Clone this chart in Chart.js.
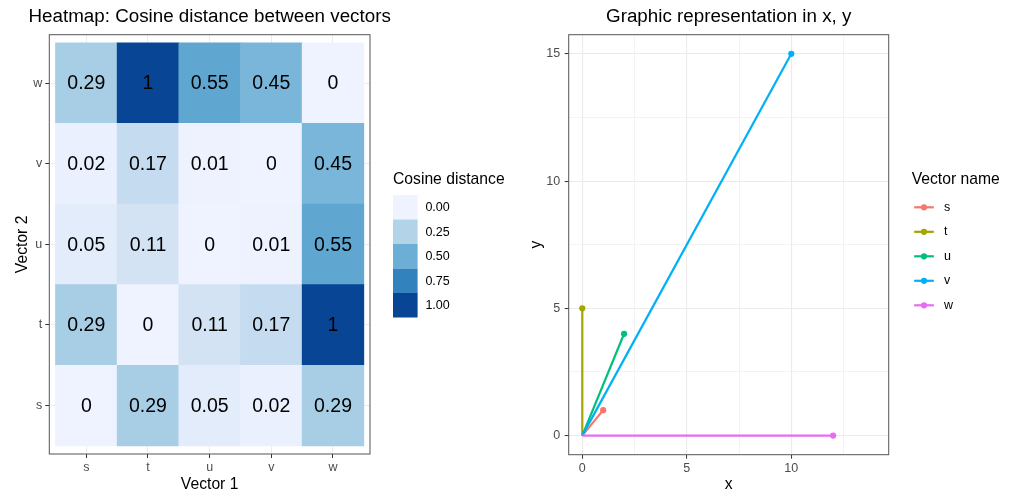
<!DOCTYPE html>
<html>
<head>
<meta charset="utf-8">
<script src="https://cdn.jsdelivr.net/npm/chart.js@4/dist/chart.umd.min.js"></script>
<style>
  html, body { margin: 0; padding: 0; background: #ffffff; }
  #wrap { position: relative; width: 1015px; height: 493px; overflow: hidden; }
  canvas { position: absolute; top: 0; }
  #heat { left: 0; }
  #vec { left: 507px; }
</style>
</head>
<body>
<div id="wrap">
  <canvas id="heat" width="507" height="493"></canvas>
  <canvas id="vec" width="508" height="493"></canvas>
</div>
<script>
// ---- data ----
const vectorNames = ['s', 't', 'u', 'v', 'w'];
const vecX = [1, 0, 2, 10, 12];
const vecY = [1, 5, 4, 15, 0];
const vectorColors = ['#F8766D', '#A3A500', '#00BF7D', '#00B0F6', '#E76BF3'];

// cosine distance: one row per "Vector 2" value, columns follow "Vector 1" (s..w)
const distS = [0, 0.29, 0.05, 0.02, 0.29];
const distT = [0.29, 0, 0.11, 0.17, 1];
const distU = [0.05, 0.11, 0, 0.01, 0.55];
const distV = [0.02, 0.17, 0.01, 0, 0.45];
const distW = [0.29, 1, 0.55, 0.45, 0];
const distanceRows = [distS, distT, distU, distV, distW];

const legendBreaks = [0, 0.25, 0.5, 0.75, 1];
const vecXTicks = [0, 2.5, 5, 7.5, 10, 12.5];
const vecYTicks = [0, 2.5, 5, 7.5, 10, 12.5, 15];

// sequential blue ramp used for the fill scale
const bluesRamp = ['#eff3ff', '#c6dbef', '#9ecae1', '#6baed6', '#4292c6', '#2171b5', '#084594'];

// ---- helpers ----
const FONT = '"Liberation Sans", Arial, Helvetica, sans-serif';
Chart.defaults.font.family = FONT;
Chart.defaults.animation = false;

function hexToRgb(h) {
  const n = parseInt(h.slice(1), 16);
  return [(n >> 16) & 255, (n >> 8) & 255, n & 255];
}
function blueFor(v) {
  const t = Math.min(Math.max(v, 0), 1) * (bluesRamp.length - 1);
  const i = Math.min(Math.floor(t), bluesRamp.length - 2);
  const f = t - i;
  const a = hexToRgb(bluesRamp[i]), b = hexToRgb(bluesRamp[i + 1]);
  const c = a.map((ch, k) => Math.round(ch + (b[k] - ch) * f));
  return `rgb(${c[0]},${c[1]},${c[2]})`;
}

const frame = {
  id: 'frame',
  afterDraw(chart) {
    const { ctx, chartArea: a } = chart;
    ctx.save();
    ctx.strokeStyle = '#555555';
    ctx.lineWidth = 1;
    ctx.strokeRect(a.left, a.top, a.right - a.left, a.bottom - a.top);
    ctx.restore();
  }
};

function panelTitle(text) {
  return {
    id: 'panelTitle',
    afterDraw(chart) {
      const { ctx, chartArea: a } = chart;
      ctx.save();
      ctx.font = `18.8px ${FONT}`;
      ctx.fillStyle = '#000';
      ctx.textAlign = 'center';
      ctx.textBaseline = 'middle';
      ctx.fillText(text, (a.left + a.right) / 2, 16.7);
      ctx.restore();
    }
  };
}

const tickFont = { size: 12.5 };
const axisTitleFont = { size: 15.7, lineHeight: 1.1 };

// ---- heatmap ----
const cellText = {
  id: 'cellText',
  afterDatasetsDraw(chart) {
    const { ctx, scales: { x, y } } = chart;
    ctx.save();
    ctx.font = `19.5px ${FONT}`;
    ctx.fillStyle = '#000';
    ctx.textAlign = 'center';
    ctx.textBaseline = 'middle';
    distanceRows.forEach((row, r) => {
      row.forEach((v, c) => {
        ctx.fillText(String(v), x.getPixelForValue(c + 1), y.getPixelForValue(r + 1) + 1);
      });
    });
    ctx.restore();
  }
};

const fillLegend = {
  id: 'fillLegend',
  afterDraw(chart) {
    const { ctx, chartArea: a } = chart;
    const left = a.right + 23, keyW = 24.6, keyH = 24.5, top = 195;
    ctx.save();
    ctx.font = `15.7px ${FONT}`;
    ctx.fillStyle = '#000';
    ctx.textBaseline = 'middle';
    ctx.fillText('Cosine distance', left, 180);
    ctx.font = `12.5px ${FONT}`;
    legendBreaks.forEach((b, i) => {
      ctx.fillStyle = blueFor(b);
      ctx.fillRect(left, top + i * keyH, keyW, keyH);
      ctx.fillStyle = '#000';
      ctx.fillText(b.toFixed(2), left + keyW + 7.8, top + i * keyH + keyH / 2 + 0.5);
    });
    ctx.restore();
  }
};

const heatDatasets = distanceRows.map((row, r) => ({
  label: vectorNames[r],
  data: row.map((v, c) => ({ x: c + 1, y: [r + 0.5, r + 1.5] })),
  backgroundColor: row.map(v => blueFor(v)),
  borderWidth: 0,
  grouped: false,
  barPercentage: 1,
  categoryPercentage: 1
}));

function categoryAxis(extra) {
  return Object.assign({
    type: 'linear',
    min: 0.4,
    max: 5.6,
    offset: false,
    afterBuildTicks(scale) { scale.ticks = [1, 2, 3, 4, 5].map(v => ({ value: v })); },
    ticks: { callback: v => vectorNames[Math.round(v) - 1], color: '#4D4D4D', font: tickFont },
    grid: { offset: false, color: '#EBEBEB', lineWidth: 1, tickLength: 4, tickColor: '#333333', tickWidth: 1 },
    border: { display: false }
  }, extra);
}

new Chart(document.getElementById('heat'), {
  type: 'bar',
  data: { datasets: heatDatasets },
  options: {
    responsive: false,
    devicePixelRatio: 1,
    layout: { padding: { top: 34.7, right: 137, left: 0, bottom: 0 } },
    plugins: { legend: { display: false }, tooltip: { enabled: false }, title: { display: false } },
    scales: {
      x: categoryAxis({
        afterFit(s) { s.height = 39; },
        ticks: { callback: v => vectorNames[Math.round(v) - 1], color: '#4D4D4D', font: tickFont, padding: 2.5, maxRotation: 0 },
        title: { display: true, text: 'Vector 1', color: '#000', font: axisTitleFont, padding: { top: 0, bottom: 0 } }
      }),
      y: categoryAxis({
        afterFit(s) { s.width = 49.3; },
        ticks: { callback: v => vectorNames[Math.round(v) - 1], color: '#4D4D4D', font: tickFont, padding: 3 },
        title: { display: true, text: 'Vector 2', color: '#000', font: axisTitleFont, padding: { top: 14, bottom: 0 } }
      })
    }
  },
  plugins: [cellText, frame, fillLegend, panelTitle('Heatmap: Cosine distance between vectors')]
});

// ---- vectors in the x, y plane ----
const vecDatasets = vectorNames.map((name, i) => ({
  label: name,
  data: [{ x: 0, y: 0 }, { x: vecX[i], y: vecY[i] }],
  showLine: true,
  borderColor: vectorColors[i],
  backgroundColor: vectorColors[i],
  borderWidth: 2.2,
  pointRadius: [0, 3.1],
  pointBorderWidth: 0,
  pointBackgroundColor: vectorColors[i],
  order: vectorNames.length - i
}));

const lineLegend = {
  id: 'lineLegend',
  afterDraw(chart) {
    const { ctx, chartArea: a } = chart;
    const left = a.right + 23, keyW = 24.6, keyH = 24.5, firstY = 207.3;
    ctx.save();
    ctx.font = `15.7px ${FONT}`;
    ctx.fillStyle = '#000';
    ctx.textBaseline = 'middle';
    ctx.fillText('Vector name', left, 180);
    ctx.font = `12.5px ${FONT}`;
    vectorNames.forEach((name, i) => {
      const cy = firstY + i * keyH;
      ctx.strokeStyle = vectorColors[i];
      ctx.lineWidth = 2.2;
      ctx.beginPath();
      ctx.moveTo(left + keyW * 0.1, cy);
      ctx.lineTo(left + keyW * 0.9, cy);
      ctx.stroke();
      ctx.fillStyle = vectorColors[i];
      ctx.beginPath();
      ctx.arc(left + keyW / 2, cy, 3.1, 0, Math.PI * 2);
      ctx.fill();
      ctx.fillStyle = '#000';
      ctx.fillText(name, left + keyW + 7.8, cy);
    });
    ctx.restore();
  }
};

function minorAwareGrid() {
  return {
    color: '#EBEBEB',
    lineWidth: c => (c.tick && c.tick.value % 5 === 0 ? 1.1 : 0.6),
    tickLength: 4,
    tickColor: c => (c.tick && c.tick.value % 5 === 0 ? '#333333' : 'rgba(0,0,0,0)'),
    tickWidth: 1
  };
}

new Chart(document.getElementById('vec'), {
  type: 'scatter',
  data: { datasets: vecDatasets },
  options: {
    responsive: false,
    devicePixelRatio: 1,
    layout: { padding: { top: 34.7, right: 126.3, left: 0, bottom: 0 } },
    plugins: { legend: { display: false }, tooltip: { enabled: false }, title: { display: false } },
    scales: {
      x: {
        type: 'linear',
        min: -0.65,
        max: 14.66,
        afterFit(s) { s.height = 38.3; },
        afterBuildTicks(scale) { scale.ticks = vecXTicks.map(v => ({ value: v })); },
        ticks: { callback: v => (v % 5 === 0 ? String(v) : ''), color: '#4D4D4D', font: tickFont, padding: 2.5, maxRotation: 0, autoSkip: false },
        grid: minorAwareGrid(),
        border: { display: false },
        title: { display: true, text: 'x', color: '#000', font: axisTitleFont, padding: { top: 0, bottom: 0 } }
      },
      y: {
        type: 'linear',
        min: -0.75,
        max: 15.75,
        afterFit(s) { s.width = 61.7; },
        afterBuildTicks(scale) { scale.ticks = vecYTicks.map(v => ({ value: v })); },
        ticks: { callback: v => (v % 5 === 0 ? String(v) : ''), color: '#4D4D4D', font: tickFont, padding: 4.5, autoSkip: false },
        grid: minorAwareGrid(),
        border: { display: false },
        title: { display: true, text: 'y', color: '#000', font: axisTitleFont, padding: { top: 21, bottom: 0 } }
      }
    }
  },
  plugins: [frame, lineLegend, panelTitle('Graphic representation in x, y')]
});
</script>
</body>
</html>
